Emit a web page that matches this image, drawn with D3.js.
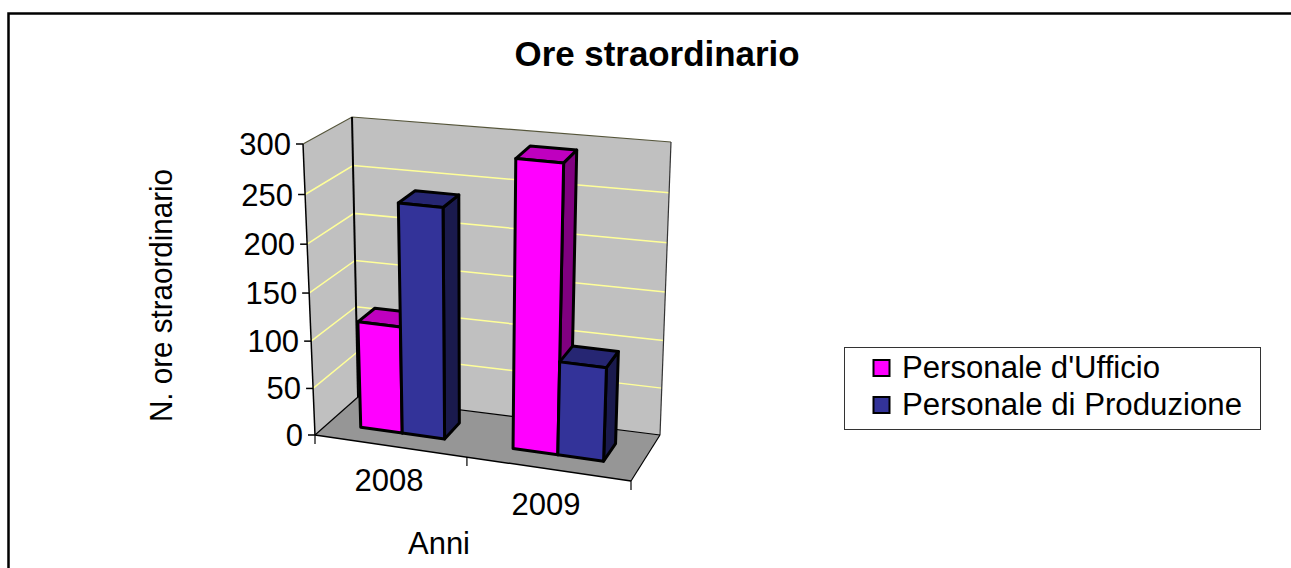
<!DOCTYPE html>
<html><head><meta charset="utf-8">
<script src="https://cdn.jsdelivr.net/npm/d3@7"></script>
<style>html,body{margin:0;padding:0;background:#fff;overflow:hidden}svg{display:block}text{font-family:"Liberation Sans",Arial,sans-serif;fill:#000}</style>
</head><body><svg id="c" width="1291" height="568"></svg>
<script>
const title = "Ore straordinario";
const yTitle = "N. ore straordinario";
const xTitle = "Anni";
const categories = ["2008", "2009"];
const seriesNames = ["Personale d'Ufficio", "Personale di Produzione"];
const ufficio = [113, 295];
const produzione = [240, 97];
const seriesColors = [
  {front:"#ff00ff", top:"#bf00bf", side:"#800080"},
  {front:"#333399", top:"#262673", side:"#1a1a4d"}
];
const svg = d3.select("#c");
// screen corners of the 3D box (u across, v depth, w height)
const box = {
  p000:[315,435], p100:[631,481], p010:[358,397], p110:[660,435],
  p001:[303,144], p101:[643,177], p011:[352,117], p111:[671,142]
};
const warp=(t,k)=>t/(k-(k-1)*t);
function project(u,v,w){
  u=warp(u,1.08); w=warp(w,1.05);
  const l=(a,b,t)=>[a[0]+(b[0]-a[0])*t,a[1]+(b[1]-a[1])*t];
  const f0=l(box.p000,box.p100,u), f1=l(box.p010,box.p110,u);
  const t0=l(box.p001,box.p101,u), t1=l(box.p011,box.p111,u);
  return l(l(f0,f1,v),l(t0,t1,v),w);
}
const y = d3.scaleLinear().domain([0,300]).range([0,1]);
const x0 = d3.scaleBand().domain(categories).range([0,1]);
const x1 = d3.scaleBand().domain(seriesNames).range([0,x0.bandwidth()]).paddingInner(0).paddingOuter(0.786);
const depth = d3.scaleLinear().domain([0,1]).range([0.32,0.71]);
const line = d3.line();
const poly = (pts,fill,stroke,sw)=>svg.append("path").attr("d",line(pts)+"Z").attr("fill",fill)
  .attr("stroke",stroke||"none").attr("stroke-width",sw||0).attr("stroke-linejoin","round");
const seg = (a,b,stroke,sw)=>svg.append("path").attr("d",line([a,b])).attr("stroke",stroke).attr("stroke-width",sw).attr("fill","none");

function label(txt,cx,base,size,len,weight,rot){
  const t=svg.append("text").text(txt).attr("font-size",size)
    .attr("textLength",len).attr("lengthAdjust","spacingAndGlyphs");
  if(weight) t.attr("font-weight",weight);
  if(rot) t.attr("transform",`translate(${cx},${base}) rotate(-90)`).attr("x",-len/2);
  else t.attr("x",cx-len/2).attr("y",base);
  return t;
}

// chart frame: only its top and left edges fall inside the picture
svg.append("path").attr("d","M8.5,568V13.5H1291").attr("fill","none").attr("stroke","#000").attr("stroke-width",2.5);

label(title,657,66,34.8,285,"bold");

// walls & floor
poly([project(0,0,0),project(0,1,0),project(0,1,1),project(0,0,1)],"#c0c0c0");
poly([project(0,1,0),project(1,1,0),project(1,1,1),project(0,1,1)],"#c0c0c0");
poly([project(0,0,0),project(1,0,0),project(1,1,0),project(0,1,0)],"#969696");

// gridlines
y.ticks(6).filter(d=>d>0).forEach(d=>{
  const w=y(d);
  const col = d===300 ? "#55553a" : "#ffff99";
  const sw = d===300 ? 1.2 : 1.5;
  svg.append("path").attr("d",line([project(0,0,w),project(0,1,w),project(1,1,w)])).attr("fill","none").attr("stroke",col).attr("stroke-width",sw);
});
// box edges
seg(project(0,1,0),project(0,1,1),"#000",2);
seg(project(1,1,0),project(1,1,1),"#333",1.2);
seg(project(0,0,0),project(0,1,0),"#000",1.2);
seg(project(0,1,0),project(1,1,0),"#000",1.2);
seg(project(1,1,0),project(1,0,0),"#000",1.2);
seg(project(0,0,0),project(1,0,0),"#000",1.5);
seg(project(0,0,0),project(0,0,1),"#000",1.5);

// y ticks
y.ticks(6).forEach(d=>{
  const p=project(0,0,y(d));
  seg([p[0]-7,p[1]],p,"#000",1.5);
  svg.append("text").text(String(d)).attr("font-size",31).attr("text-anchor","end")
    .attr("x",p[0]-12).attr("y",p[1]+11);
});
// x ticks
[0,0.5,1].forEach(u=>{
  const p=project(u,0,0);
  seg(p,[p[0],p[1]+9],"#000",1.2);
});
const xLabelPos=[[389,491],[546,515]];
categories.forEach((c,i)=>label(c,xLabelPos[i][0],xLabelPos[i][1],31,69));
label(xTitle,439,554,31,62);
label(yTitle,172,295.5,31,253,null,true);

// bars, left to right
categories.forEach((c,i)=>{
  seriesNames.forEach((s,k)=>{
    const val=(k===0?ufficio:produzione)[i];
    const u0=x0(c)+x1(s), u1=u0+x1.bandwidth();
    const v0=depth(0), v1=depth(1), w=y(val);
    const col=seriesColors[k], sw=3;
    poly([project(u1,v0,0),project(u1,v1,0),project(u1,v1,w),project(u1,v0,w)],col.side,"#000",sw);
    poly([project(u0,v0,w),project(u1,v0,w),project(u1,v1,w),project(u0,v1,w)],col.top,"#000",sw);
    poly([project(u0,v0,0),project(u1,v0,0),project(u1,v0,w),project(u0,v0,w)],col.front,"#000",sw);
  });
});

// legend
svg.append("rect").attr("x",844.5).attr("y",347.5).attr("width",416).attr("height",82).attr("fill","#fff").attr("stroke","#333").attr("stroke-width",1);
seriesNames.forEach((s,k)=>{
  const cy=[368,405][k];
  svg.append("rect").attr("x",873.5).attr("y",cy-8).attr("width",16).attr("height",16)
    .attr("fill",seriesColors[k].front).attr("stroke","#000").attr("stroke-width",2);
  label(s,902+[258,340][k]/2,cy+10,31,[258,340][k]);
});
</script></body></html>
